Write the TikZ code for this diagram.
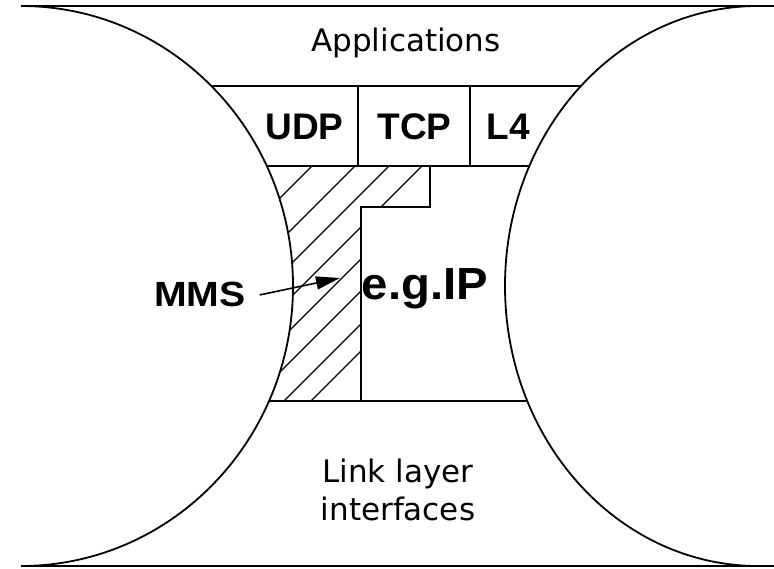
\documentclass[tikz,border=0pt]{standalone}
\usepackage{fontspec}
\usepackage{graphicx}
\setmainfont{DejaVu Sans}
\newfontfamily\labelfont{Liberation Sans}
\usetikzlibrary{arrows.meta}

\begin{document}
\begin{tikzpicture}[x=1pt,y=1pt,
  rule/.style={line width=2.2pt},
  curve/.style={line width=1.8pt},
  wall/.style={line width=1.8pt},
  hatchline/.style={line width=1.4pt},
  plaintext/.style={inner sep=0pt,anchor=base,font=\fontsize{31pt}{37pt}\selectfont},
  proto/.style={inner sep=0pt,anchor=base,font=\labelfont\bfseries\fontsize{37pt}{40pt}\selectfont},
  pointer/.style={line width=1.6pt,-{Triangle[length=24pt,width=13pt]}}]
\useasboundingbox (0,0) rectangle (774,568);

% upper and lower rules
\draw[rule] (21,562) -- (774,562);
\draw[rule] (21,2) -- (774,2);

% the two bounding curves
\draw[curve] (21,562) arc[start angle=90,end angle=-90,x radius=272pt,y radius=280pt];
\draw[curve] (758,562) arc[start angle=90,end angle=270,x radius=253pt,y radius=280pt];

% layer boundaries
\draw[wall] (211.4,482) -- (580.9,482);
\draw[wall] (266.8,402) -- (529.4,402);
\draw[wall] (269.0,167) -- (527.3,167);
\draw[wall] (358,482) -- (358,402);
\draw[wall] (470,482) -- (470,402);
\draw[wall] (430,402) -- (430,361) -- (361,361) -- (361,167);

% hatched band
\begin{scope}
  \clip (269.0,167) arc[start angle=-24.25,end angle=25.38,x radius=272pt,y radius=280pt]
        -- (430,402) -- (430,361) -- (361,361) -- (361,167) -- cycle;
  \foreach \d in {-90,-47,-13,20,84,117,144}
    \draw[hatchline] (\d+150,150) -- (\d+420,420);
  \draw[hatchline] (202,150) -- (382,330);
\end{scope}

% labels
\node[plaintext] (apps) at (406,516) {Applications};
\node[proto] (udp) at (304.5,428) {UDP};
\node[proto] (tcp) at (414.5,428) {TCP};
\node[proto] (lfour) at (508,428) {L4};
\node[proto,font=\labelfont\bfseries\fontsize{45pt}{48pt}\selectfont] (ip) at (425,268) {\scalebox{1.05}[1]{e.g.IP}};
\node[proto,font=\labelfont\bfseries\fontsize{35pt}{38pt}\selectfont,outer xsep=14pt] (mms) at (200,261) {\scalebox{1.12}[1]{MMS}};
\node[plaintext] (linkone) at (398,85) {Link layer};
\node[plaintext] (linktwo) at (398,48) {interfaces};

% pointer into the hatched band
\coordinate (tip) at (340,290);
\draw[pointer] (mms.east) -- (tip);
\end{tikzpicture}
\end{document}
